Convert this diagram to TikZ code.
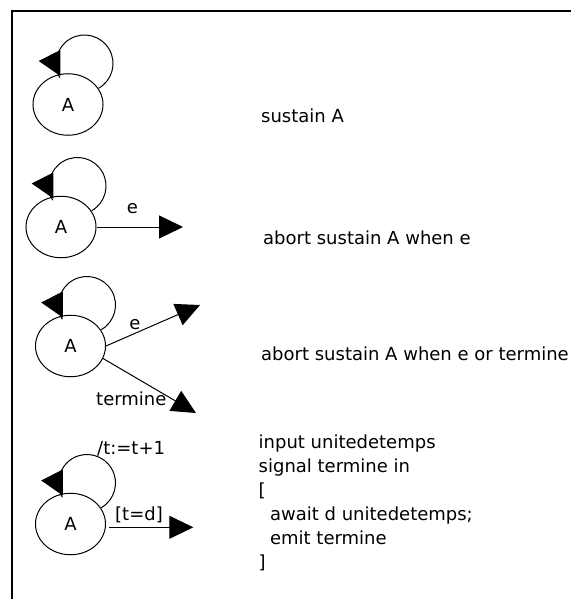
\documentclass[tikz,border=0pt]{standalone}
\usepackage{fontspec}
\setmainfont{DejaVu Sans}
\usetikzlibrary{shapes.geometric,arrows.meta,calc}
\begin{document}
\begin{tikzpicture}[x=1pt,y=-1pt,
  font=\fontsize{18}{24}\selectfont,
  state/.style={ellipse, draw, line width=1pt, minimum width=70pt, minimum height=61.5pt, inner sep=0pt},
  txt/.style={inner sep=0pt},
  arr/.style={line width=1pt, -{Triangle[length=24pt,width=23pt]}},
  loopline/.style={line width=1pt},
  frame/.style={line width=2.2pt}]
\useasboundingbox (0,0) rectangle (571,599);
% frame
\coordinate (fb) at (12.2,599);
\coordinate (fc) at (12.2,11);
\coordinate (fr) at (571,11);
\draw[frame] (fb) -- (fc) -- (fr);

% states
\node[state] (A1) at (68,104.5) {A};
\node[state] (A2) at (61,227) {A};
\node[state] (A3) at (70.5,346) {A};
\node[state] (A4) at (70.5,524) {A};

% self loops with their heads
\foreach \s in {A1,A2,A3,A4}{
  \draw[loopline] ($(\s.center)+(16.5,-41)$) ++(150:28.5) arc[start angle=150,end angle=420,radius=28.5];
  \fill ($(\s.center)+(-29.3,-43.5)$) -- ++(21.6,-11) -- ++(0,26) -- cycle;
}

% diagram 2
\coordinate (t2) at (183,227);
\draw[arr] (A2.east) -- (t2);
\node[txt, anchor=base] (e2) at (132.5,213.5) {e};

% diagram 3
\coordinate (t3a) at (200,305);
\coordinate (t3b) at (196,413);
\draw[arr] (A3.east) -- (t3a);
\draw[arr] (A3.-21) -- (t3b);
\node[txt, anchor=base] (e3) at (135,329) {e};
\node[txt, anchor=base west] (term) at (96,405) {termine};

% diagram 4
\coordinate (s4) at (109.3,527.3);
\coordinate (t4) at (193.3,527.3);
\draw[arr] (s4) -- (t4);
\node[txt, anchor=base west] (incr) at (97,454) {/t:=t+1};
\node[txt, anchor=base west] (guard) at (115,520) {[t=d]};

% texts
\node[txt, anchor=base west] (d1) at (261,123) {sustain A};
\node[txt, anchor=base west] (d2) at (263,244) {abort sustain A when e};
\node[txt, anchor=base west] (d3) at (261,360) {abort sustain A when e or termine};
\node[txt, anchor=base west, align=left] (d4) at (258.5,568)
  {input unitedetemps\\signal termine in\\{[}\\\hspace*{11.4pt}await d unitedetemps;\\\hspace*{11.4pt}emit termine\\{]}};
\end{tikzpicture}
\end{document}
